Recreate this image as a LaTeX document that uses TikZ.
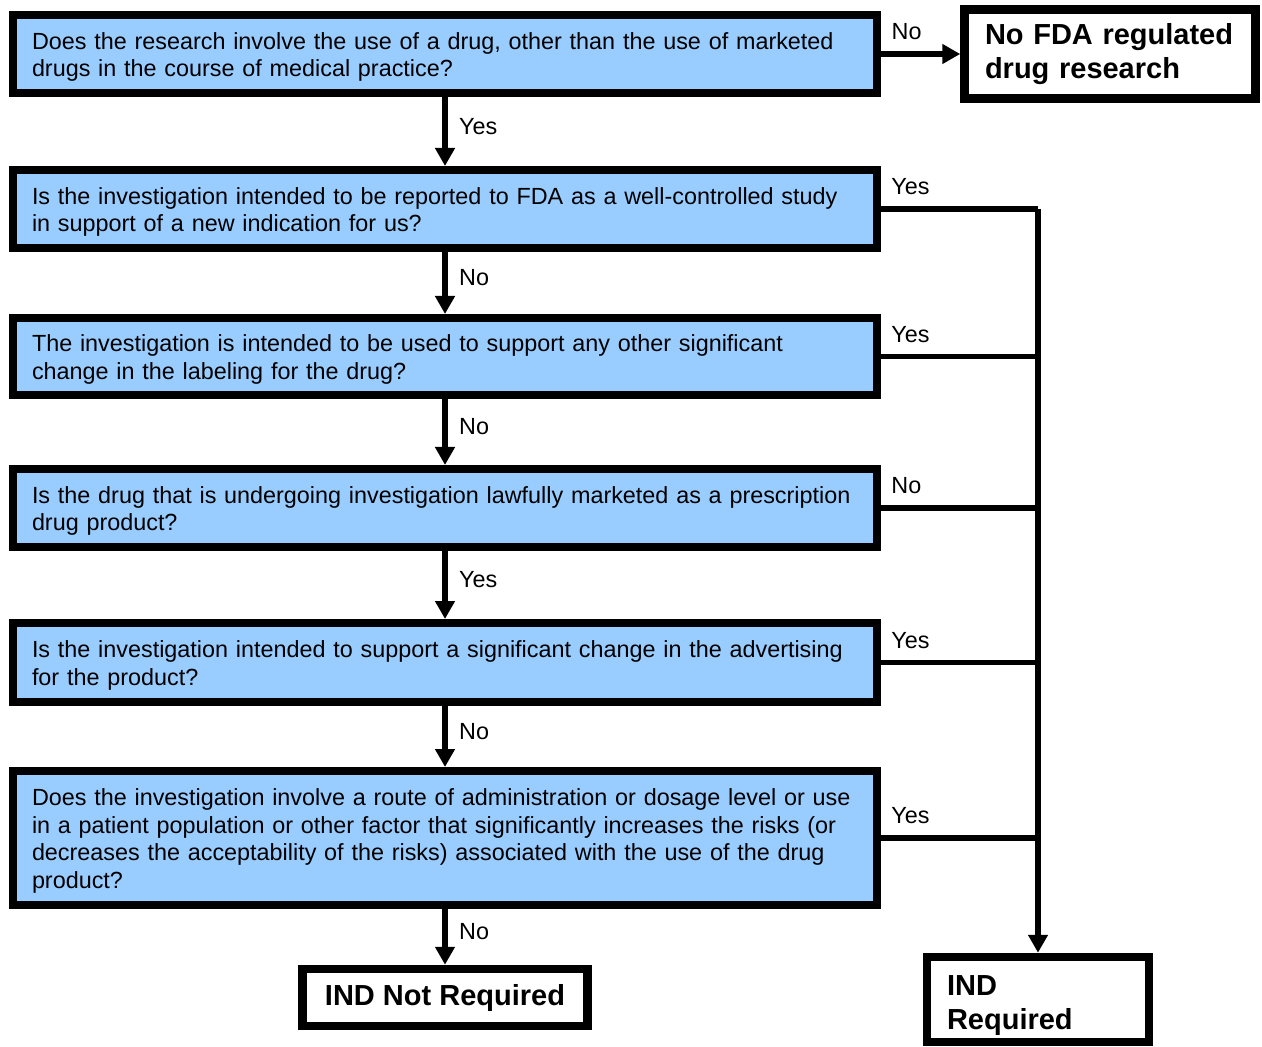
\documentclass[tikz,border=0pt]{standalone}
\usepackage{fontspec}
\setmainfont{Liberation Sans}
\usepackage{xcolor}
\usepackage{tikz}
\usetikzlibrary{arrows.meta}
\definecolor{qblue}{HTML}{99CCFF}

\tikzset{
  question/.style={draw, fill=qblue, line width=0.16cm, minimum width=17.28cm,
    inner xsep=0.38cm, text width=16.52cm, align=left,
    font=\fontsize{13.3}{15.6}\selectfont,
    execute at begin node={\rule{0pt}{13pt}}},
  endbox/.style={draw, fill=white, line width=0.17cm, inner xsep=0.4cm,
    font=\fontsize{16.5}{19.4}\selectfont\bfseries},
  flow/.style={line width=0.12cm, -{Triangle[width=0.38cm,length=0.36cm]}},
  link/.style={line width=0.11cm},
  lbl/.style={font=\fontsize{13.3}{15}\selectfont}
}

\begin{document}
\begin{tikzpicture}
\useasboundingbox (0,0) rectangle (25.24,-20.94);

\node [question, minimum height=1.56cm] (q1) at (8.9,-1.08) {Does the research involve the use of a drug, other than the use of marketed\\ drugs in the course of medical practice?};
\node [question, minimum height=1.56cm] (q2) at (8.9,-4.18) {Is the investigation intended to be reported to FDA as a well-controlled study\\ in support of a new indication for us?};
\node [question, minimum height=1.54cm] (q3) at (8.9,-7.13) {The investigation is intended to be used to support any other significant\\ change in the labeling for the drug?};
\node [question, minimum height=1.56cm] (q4) at (8.9,-10.16) {Is the drug that is undergoing investigation lawfully marketed as a prescription\\ drug product?};
\node [question, minimum height=1.58cm] (q5) at (8.9,-13.25) {Is the investigation intended to support a significant change in the advertising\\ for the product?};
\node [question, minimum height=2.68cm] (q6) at (8.9,-16.76) {Does the investigation involve a route of administration or dosage level or use\\ in a patient population or other factor that significantly increases the risks (or\\ decreases the acceptability of the risks) associated with the use of the drug\\ product?};

\node [endbox, minimum width=5.82cm, minimum height=1.78cm, text width=5cm, align=left] (noreg) at (22.2,-1.08) {No FDA regulated\\ drug research};
\node [endbox, minimum width=5.7cm, minimum height=1.14cm] (indno) at (8.9,-19.95) {IND Not Required};
\node [endbox, minimum width=4.44cm, minimum height=1.7cm, text width=3.64cm, align=left,
  execute at begin node={\rule{0pt}{18.5pt}}] (indyes) at (20.76,-19.99) {IND\\ Required};

% down the left column
\draw [flow] (q1) -- (q2) node [midway, right, lbl, xshift=3pt, yshift=3pt] {Yes};
\draw [flow] (q2) -- (q3) node [midway, right, lbl, xshift=3pt, yshift=3pt] {No};
\draw [flow] (q3) -- (q4) node [midway, right, lbl, xshift=3pt, yshift=3pt] {No};
\draw [flow] (q4) -- (q5) node [midway, right, lbl, xshift=3pt, yshift=3pt] {Yes};
\draw [flow] (q5) -- (q6) node [midway, right, lbl, xshift=3pt, yshift=3pt] {No};
\draw [flow] (q6) -- (indno) node [midway, right, lbl, xshift=3pt, yshift=3pt] {No};

\draw [flow] (q1) -- (noreg) node [at start, above right, lbl, xshift=1pt, yshift=3pt] {No};

% right bus to IND Required
\coordinate (bus) at (20.76,-4.18);
\draw [link] (q2.east) node [above right, lbl, xshift=1pt, yshift=3pt] {Yes} -- (bus);
\draw [flow, line width=0.12cm] (bus) -- (indyes.north);
\draw [link] (q3.east) node [above right, lbl, xshift=1pt, yshift=3pt] {Yes} -- (q3.east -| bus);
\draw [link] (q4.east) node [above right, lbl, xshift=1pt, yshift=3pt] {No} -- (q4.east -| bus);
\draw [link] (q5.east) node [above right, lbl, xshift=1pt, yshift=3pt] {Yes} -- (q5.east -| bus);
\draw [link] (q6.east) node [above right, lbl, xshift=1pt, yshift=3pt] {Yes} -- (q6.east -| bus);
\end{tikzpicture}
\end{document}
